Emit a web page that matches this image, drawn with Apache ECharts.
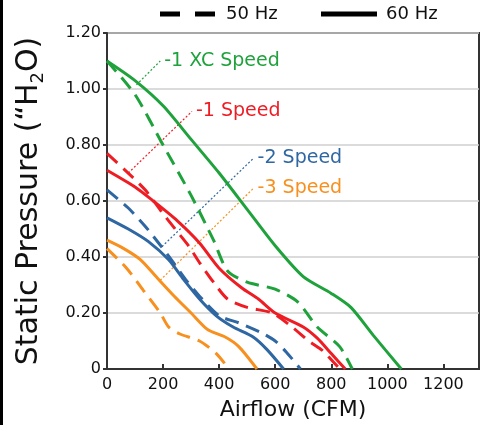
<!DOCTYPE html>
<html><head><meta charset="utf-8">
<script src="https://cdn.jsdelivr.net/npm/echarts@6/dist/echarts.min.js"></script>
<style>html,body{margin:0;padding:0;background:#fff}#c{width:487px;height:425px}</style>
</head><body><div id="c"></div>
<script>
// Airflow (CFM) / Static Pressure ("H2O) curves
const xc60 = [[0,1.10],[100,1.03],[200,0.94],[300,0.82],[400,0.70],[500,0.57],[600,0.44],[700,0.33],[800,0.27],[870,0.22],[950,0.12],[1050,0]];
const xc50 = [[0,1.10],[100,0.98],[200,0.80],[300,0.62],[380,0.46],[430,0.35],[500,0.31],[600,0.285],[680,0.24],[750,0.15],[830,0.08],[875,0]];
const s1_60 = [[0,0.71],[100,0.65],[165,0.60],[250,0.53],[330,0.45],[400,0.36],[480,0.29],[540,0.25],[600,0.20],[700,0.15],[750,0.11],[800,0.055],[850,0]];
const s1_50 = [[0,0.77],[70,0.705],[136,0.64],[196,0.56],[243,0.50],[291,0.44],[330,0.38],[380,0.31],[430,0.25],[500,0.22],[590,0.20],[660,0.15],[720,0.10],[770,0.065],[830,0]];
const s2_60 = [[0,0.54],[76,0.50],[148,0.455],[220,0.39],[273,0.32],[330,0.25],[390,0.19],[450,0.15],[520,0.115],[570,0.07],[630,0]];
const s2_50 = [[0,0.64],[76,0.575],[136,0.51],[184,0.45],[230,0.39],[280,0.32],[330,0.26],[400,0.19],[470,0.165],[550,0.13],[600,0.10],[640,0.06],[690,0]];
const s3_60 = [[0,0.46],[60,0.43],[120,0.39],[175,0.33],[240,0.26],[300,0.20],[360,0.14],[420,0.115],[470,0.08],[535,0]];
const s3_50 = [[0,0.43],[70,0.36],[130,0.28],[190,0.20],[220,0.15],[260,0.125],[330,0.10],[390,0.055],[435,0]];
// annotation leader lines: [point on curve, label anchor]
const annXC = [[105,1.015],[190,1.10]];
const ann1 = [[76,0.70],[303,0.92]];
const ann2 = [[196,0.437],[523,0.753]];
const ann3 = [[190,0.317],[523,0.646]];
const annText = ['-1 XC Speed','-1 Speed','-2 Speed','-3 Speed'];
const xTicks = [0,200,400,600,800,1000,1200];
const yTicks = [0,0.2,0.4,0.6,0.8,1.0,1.2];
const legendNames = ['50 Hz','60 Hz'];

const GREEN='#1fa23c', RED='#ee1d24', BLUE='#2f67a3', ORANGE='#f7901e';
const FONT='DejaVu Sans';
const DASH=[14,8];

function curve(name,data,color,dashed){
  return {name:name,type:'line',data:data,symbol:'none',smooth:0.25,
    lineStyle:{color:color,width:3,type:dashed?DASH:'solid'},itemStyle:{color:color},z:3,silent:true};
}
function ann(data,color,text){
  return {type:'line',data:data,symbol:'none',silent:true,z:2,
    lineStyle:{color:color,width:1.2,type:[2,2]},
    endLabel:{show:true,formatter:text,color:color,fontFamily:FONT,fontSize:19,distance:4}};
}

const chart = echarts.init(document.getElementById('c'),null,{renderer:'canvas'});
chart.setOption({
  animation:false,
  backgroundColor:'#fff',
  graphic:[
    {type:'rect',left:0,top:0,shape:{width:3,height:425},style:{fill:'#000'}},
    {type:'line',shape:{x1:160,y1:14,x2:216,y2:14},style:{stroke:'#000',lineWidth:5,lineDash:[20,15]}},
    {type:'text',x:226,y:14,style:{text:legendNames[0],fontFamily:FONT,fontSize:18,fill:'#111',verticalAlign:'middle'}},
    {type:'line',shape:{x1:321,y1:14,x2:377,y2:14},style:{stroke:'#000',lineWidth:5}},
    {type:'text',x:386,y:14,style:{text:legendNames[1],fontFamily:FONT,fontSize:18,fill:'#111',verticalAlign:'middle'}}
  ],
  grid:{left:107,right:8,top:33,bottom:56,containLabel:false,outerBoundsMode:'none',show:true,borderColor:'#333',borderWidth:2},
  xAxis:{type:'value',min:0,max:1327,interval:200,
    name:'Airflow (CFM)',nameLocation:'middle',nameGap:30,nameMoveOverlap:false,
    nameTextStyle:{fontFamily:FONT,fontSize:22,color:'#111'},
    axisLine:{show:true,lineStyle:{color:'#333',width:2}},
    axisTick:{show:true,inside:true,length:5,lineStyle:{color:'#333',width:2}},
    axisLabel:{fontFamily:FONT,fontSize:16,color:'#111',margin:8,showMaxLabel:false,
      formatter:v=>xTicks.indexOf(v)>=0?String(v):''},
    splitLine:{show:false}},
  yAxis:{type:'value',min:0,max:1.2,interval:0.2,
    name:'{a|Static Pressure (“H}{s|2}{a|O)}',nameLocation:'middle',nameGap:60,nameMoveOverlap:false,
    nameTextStyle:{color:'#111',rich:{
      a:{fontFamily:FONT,fontSize:30,color:'#111',lineHeight:36},
      s:{fontFamily:FONT,fontSize:18,color:'#111',verticalAlign:'bottom',lineHeight:36,padding:[14,0,0,0]}}},
    axisLine:{show:true,lineStyle:{color:'#333',width:2}},
    axisTick:{show:true,length:4,lineStyle:{color:'#333',width:2}},
    axisLabel:{fontFamily:FONT,fontSize:16,color:'#111',margin:6,
      formatter:v=>{const t=yTicks.find(k=>Math.abs(k-v)<1e-9);return t===undefined?'':(t===0?'0':t.toFixed(2));}},
    splitLine:{show:true,lineStyle:{color:'#cfcfcf',width:1.5}}},
  series:[
    ann(annXC,GREEN,annText[0]),ann(ann1,RED,annText[1]),ann(ann2,BLUE,annText[2]),ann(ann3,ORANGE,annText[3]),
    curve('xc60',xc60,GREEN,false),curve('xc50',xc50,GREEN,true),
    curve('s1_60',s1_60,RED,false),curve('s1_50',s1_50,RED,true),
    curve('s2_60',s2_60,BLUE,false),curve('s2_50',s2_50,BLUE,true),
    curve('s3_60',s3_60,ORANGE,false),curve('s3_50',s3_50,ORANGE,true)
  ]
});
</script></body></html>
